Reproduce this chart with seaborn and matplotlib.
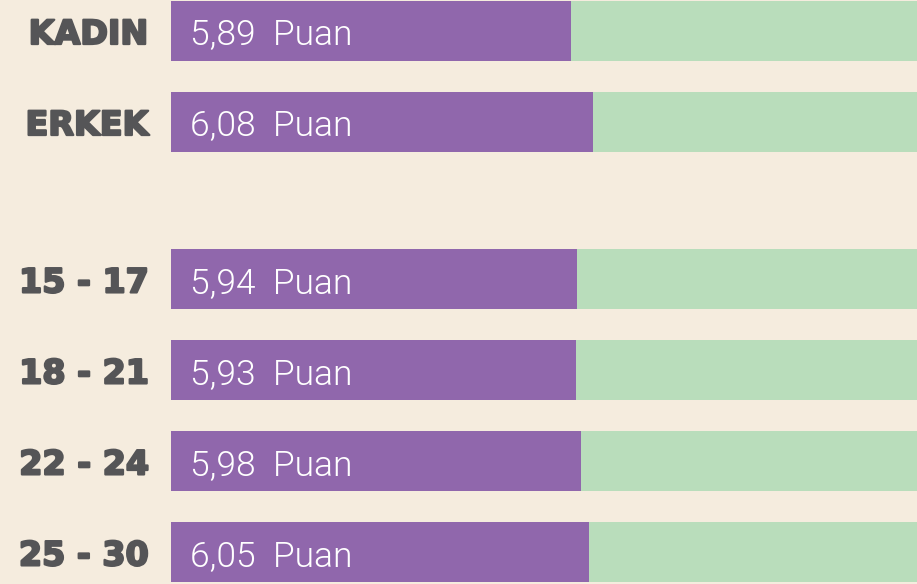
import matplotlib
matplotlib.use("Agg")
import matplotlib.pyplot as plt
import matplotlib.patheffects as pe
import seaborn as sns
import pandas as pd
import numpy as np

# ---- data ----
categories = ["KADIN", "ERKEK", "15 - 17", "18 - 21", "22 - 24", "25 - 30"]
scores = [5.89, 6.08, 5.94, 5.93, 5.98, 6.05]
score_labels = ["5,89", "6,08", "5,94", "5,93", "5,98", "6,05"]
unit = "Puan"
track_max = [10, 10, 10, 10, 10, 10]

# ---- layout (positions: gap between gender and age groups) ----
positions = [0, 1, 2.73, 3.73, 4.73, 5.73]

BG = "#F5ECDE"
PURPLE = "#9067AC"
GREEN = "#B9DDBB"
GRAY = "#555557"

sns.set_theme(style="white")
plt.rcParams["font.family"] = ["DejaVu Sans"]

df = pd.DataFrame({"cat": categories, "score": scores, "track": track_max, "pos": positions})

fig = plt.figure(figsize=(9.17, 5.84), dpi=100, facecolor=BG)
ax = fig.add_axes([171 / 917, 0, 746 / 917, 1])
ax.set_facecolor(BG)

sns.barplot(data=df, x="track", y="pos", orient="y", native_scale=True,
            color=GREEN, saturation=1, width=0.66, ax=ax, linewidth=0)
sns.barplot(data=df, x="score", y="pos", orient="y", native_scale=True,
            color=PURPLE, saturation=1, width=0.66, ax=ax, linewidth=0)

ax.set_xlim(2.35, 8.95)
ax.set_ylim(6.077, -0.341)

ax.set_yticks(positions)
ax.set_yticklabels(categories, fontsize=24, fontweight="bold", color=GRAY,
                   family=["DejaVu Sans"])
for t in ax.get_yticklabels():
    t.set_path_effects([pe.withStroke(linewidth=1.6, foreground=GRAY)])
ax.tick_params(axis="y", length=0, pad=16)
ax.set_xticks([])
ax.set_xlabel("")
ax.set_ylabel("")
for s in ax.spines.values():
    s.set_visible(False)

for p, lab in zip(positions, score_labels):
    ax.annotate(f"{lab}  {unit}", xy=(0, p), xycoords=("axes fraction", "data"),
                xytext=(14, 0), textcoords="offset points",
                ha="left", va="center_baseline", fontsize=25.5, fontweight=300,
                color="white", family=["Roboto", "DejaVu Sans"])

fig.savefig("out.png", dpi=100, facecolor=BG)
